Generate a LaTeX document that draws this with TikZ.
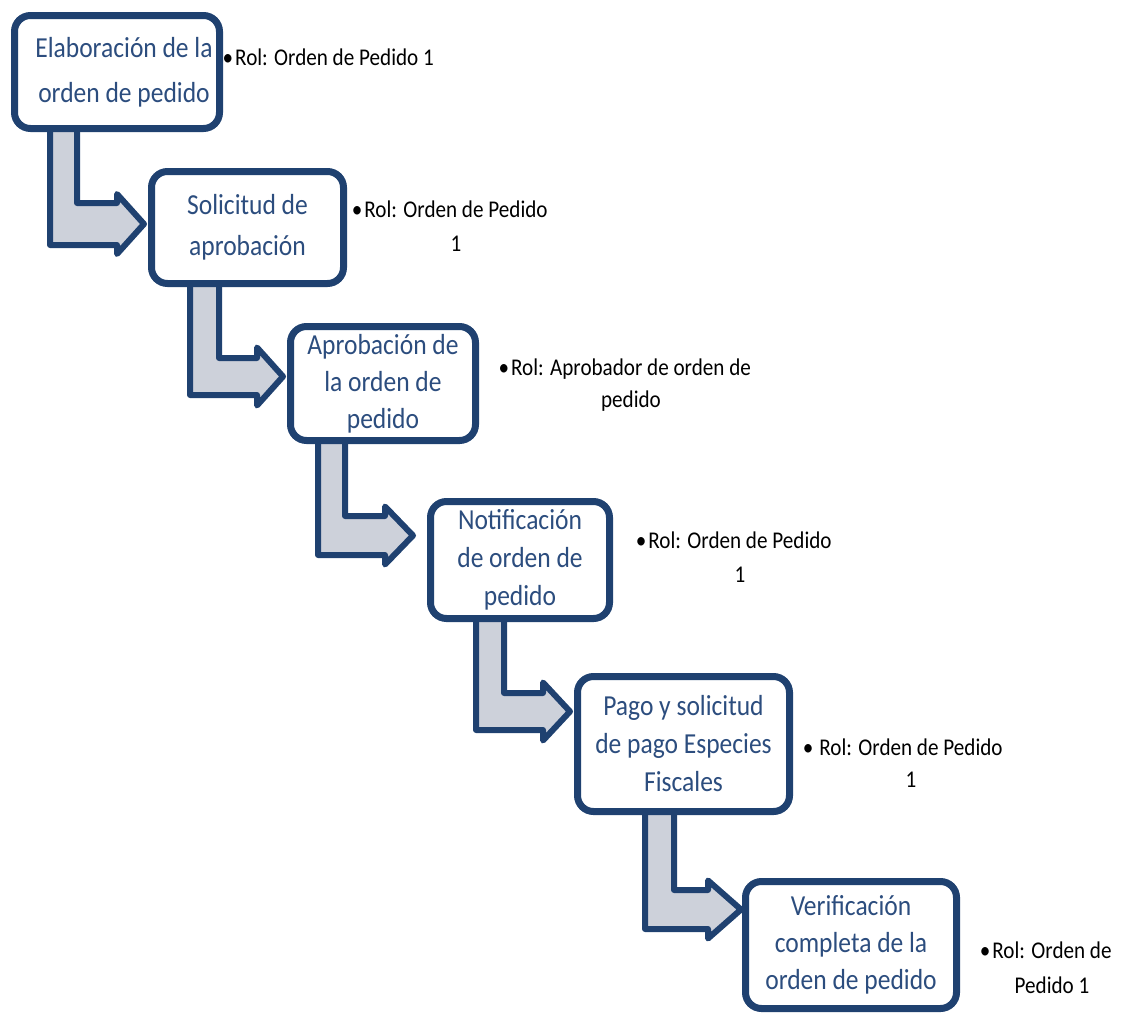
\documentclass[tikz,border=0pt]{standalone}
\usepackage{fontspec}
\setmainfont{Carlito}[FakeStretch=0.88]
\usetikzlibrary{backgrounds}
\definecolor{bxblue}{HTML}{1F4170}
\definecolor{txtblue}{HTML}{2C4D7E}
\definecolor{arrgray}{HTML}{CDD1DA}
\newcommand\bentarr[8]{%
  \draw[bentarrow] ({#1+3},{#3-5}) -- ({#1+3},{#5-3}) -- (#6,{#5-3})
    -- (#6,{(#4+#5)/2+#8-4}) -- ({#7-4},{(#4+#5)/2}) -- (#6,{(#4+#5)/2-#8+4})
    -- (#6,{#4+3}) -- ({#2-3},{#4+3}) -- ({#2-3},{#3-5}) -- cycle;}
\begin{document}
\begin{tikzpicture}[x=1pt,y=-1pt,
  stepbox/.style={draw=bxblue, line width=7pt, fill=white, rounded corners=16pt,
    inner sep=0pt, outer sep=0pt, align=center, text=txtblue},
  boxfont/.style={font=\fontsize{29}{#1}\selectfont},
  rolnote/.style={anchor=base, align=center, inner sep=0pt, text=black,
    font=\fontsize{24}{#1}\selectfont},
  bentarrow/.style={draw=bxblue, line width=6pt, fill=arrgray, line join=round}]
\useasboundingbox (0,0) rectangle (1138,1015);

% boxes
\node[stepbox, boxfont=45, minimum width=205pt, minimum height=113pt] (b1) at (117,72)
  {\hspace*{14pt}Elaboración de la\\\hspace*{14pt}orden de pedido};
\node[stepbox, boxfont=41, minimum width=192pt, minimum height=112pt] (b2) at (247.5,227.5)
  {Solicitud de\\aprobación};
\node[stepbox, boxfont=37, minimum width=185pt, minimum height=114pt] (b3) at (383,383.5)
  {Aprobación de\\la orden de\\pedido};
\node[stepbox, boxfont=38, minimum width=179pt, minimum height=117pt] (b4) at (520,560)
  {Notificación\\de orden de\\pedido};
\node[stepbox, boxfont=38, minimum width=212pt, minimum height=135pt] (b5) at (683.5,744)
  {Pago y solicitud\\de pago Especies\\Fiscales};
\node[stepbox, boxfont=37, minimum width=211pt, minimum height=127pt] (b6) at (851,945)
  {Verificación\\completa de la\\orden de pedido};

% bent arrows
\begin{scope}[on background layer]
\bentarr{47}{80}{130}{200}{248}{117}{148}{34}
\bentarr{187}{222}{285}{355}{398}{257}{287}{33}
\bentarr{315}{348}{444}{513}{558}{385}{417}{33}
\bentarr{473}{507}{620}{690}{733}{543}{574}{33}
\bentarr{642}{677}{815}{887}{932}{708}{745}{33}
\end{scope}

% role notes (anchor base = baseline of the last line)
\node[rolnote=33, anchor=base west] (r1) at (235,65) {\llap{•\kern2pt}Rol: Orden de Pedido 1};
\node[rolnote=34] (r2) at (456,251) {\llap{•\kern2pt}Rol: Orden de Pedido\\1};
\node[rolnote=32] (r3) at (631,407) {\llap{•\kern2pt}Rol: Aprobador de orden de\\pedido};
\node[rolnote=34] (r4) at (740,582) {\llap{•\kern2pt}Rol: Orden de Pedido\\1};
\node[rolnote=32] (r5) at (911,787) {\llap{•\kern6pt}Rol: Orden de Pedido\\1};
\node[rolnote=35] (r6) at (1052,993) {\llap{•\kern2pt}Rol: Orden de\\Pedido 1};
\end{tikzpicture}
\end{document}
